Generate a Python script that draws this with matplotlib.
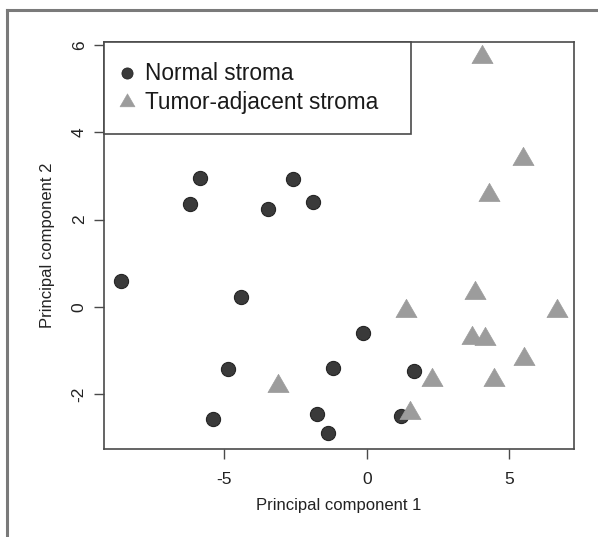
import matplotlib
matplotlib.use("Agg")
import matplotlib.pyplot as plt
from matplotlib.path import Path
from matplotlib.lines import Line2D
from matplotlib.patches import Rectangle
import numpy as np

plt.rcParams['font.family'] = ['Liberation Sans', 'DejaVu Sans']

# Normal stroma (circles)
normal_pc1 = [-8.63, -6.20, -5.85, -4.42, -4.86, -5.40, -3.45, -2.60, -1.87,
              -1.17, -1.75, -1.35, -0.14, 1.66, 1.19]
normal_pc2 = [0.60, 2.35, 2.95, 0.22, -1.43, -2.57, 2.24, 2.93, 2.41,
              -1.40, -2.46, -2.89, -0.60, -1.47, -2.51]

# Tumor-adjacent stroma (triangles)
tumor_pc1 = [4.04, 5.49, 4.29, 3.80, 6.67, 1.38, 3.68, 4.13, 5.52, 4.48,
             2.28, 1.52, -3.12]
tumor_pc2 = [5.73, 3.40, 2.56, 0.32, -0.10, -0.10, -0.71, -0.73, -1.20,
             -1.69, -1.69, -2.44, -1.81]

x_ticks = [-5, 0, 5]
y_ticks = [-2, 0, 2, 4, 6]
labels = ["Normal stroma", "Tumor-adjacent stroma"]
xlabel = "Principal component 1"
ylabel = "Principal component 2"

W, H = 598, 537
fig = plt.figure(figsize=(W / 100, H / 100), dpi=100)
AX_L, AX_R, AX_T, AX_B = 104, 574.3, 41.7, 449.3
ax = fig.add_axes([AX_L / W, 1 - AX_B / H, (AX_R - AX_L) / W, (AX_B - AX_T) / H])

# triangle marker centred on its centroid (like R pch 17)
tri = Path([(0, 1), (-0.866, -0.5), (0.866, -0.5), (0, 1)],
           [Path.MOVETO, Path.LINETO, Path.LINETO, Path.CLOSEPOLY])

c_dark = '#3a3a3a'
c_gray = '#9c9c9c'

ax.plot(normal_pc1, normal_pc2, linestyle='none', marker='o', markersize=10.2,
        markerfacecolor=c_dark, markeredgecolor='#262626', markeredgewidth=0.8)
ax.plot(tumor_pc1, tumor_pc2, linestyle='none', marker=tri, markersize=17.5,
        markerfacecolor=c_gray, markeredgecolor=c_gray, markeredgewidth=0.5)

ax.set_xlim(-9.22, 7.28)
ax.set_ylim(-3.27, 6.08)
ax.set_xticks(x_ticks)
ax.set_yticks(y_ticks)
ax.set_xticklabels([str(t) for t in x_ticks])
ax.set_yticklabels([str(t) for t in y_ticks], rotation=90, va='center')

spine_c = '#4a4a4a'
for s in ax.spines.values():
    s.set_color(spine_c)
    s.set_linewidth(1.2)
ax.tick_params(direction='out', length=7.5, width=1.0, color=spine_c,
               labelsize=12.5, labelcolor='#222222')
ax.tick_params(axis='x', pad=9)
ax.tick_params(axis='y', pad=5)

ax.set_xlabel(xlabel, fontsize=12, color='#222222', labelpad=8)
ax.set_ylabel(ylabel, fontsize=12, color='#222222', labelpad=12)

# legend box drawn like R's legend()
def px2ax(x, y):
    return ((x - AX_L) / (AX_R - AX_L), (AX_B - y) / (AX_B - AX_T))

x0, y0 = px2ax(104, 134)
x1, y1 = px2ax(410.7, 41.7)
ax.add_patch(Rectangle((x0, y0), x1 - x0, y1 - y0, transform=ax.transAxes,
                       facecolor='white', edgecolor=spine_c, linewidth=1.2,
                       zorder=5, clip_on=False))
rows = [(73.3, 80.5), (101.7, 109.0)]
styles = [dict(marker='o', markersize=8, markerfacecolor=c_dark,
               markeredgecolor='#262626', markeredgewidth=0.6),
          dict(marker=tri, markersize=12.5, markerfacecolor=c_gray,
               markeredgecolor=c_gray, markeredgewidth=0.4)]
for lab, (my, ty), st in zip(labels, rows, styles):
    mx, myy = px2ax(127, my)
    ax.plot([mx], [myy], linestyle='none', transform=ax.transAxes,
            zorder=6, clip_on=False, **st)
    tx, tyy = px2ax(145, ty)
    ax.text(tx, tyy, lab, transform=ax.transAxes, fontsize=16.3,
            color='#1a1a1a', ha='left', va='baseline', zorder=6)

# outer frame (cropped box)
fig.add_artist(Line2D([7 / W, 7 / W], [0, 1 - 10 / H], transform=fig.transFigure,
                      color='#7a7a7a', linewidth=2.2))
fig.add_artist(Line2D([7 / W, 1], [1 - 10 / H, 1 - 10 / H], transform=fig.transFigure,
                      color='#7a7a7a', linewidth=2.2))

fig.savefig("out.png", dpi=100)
